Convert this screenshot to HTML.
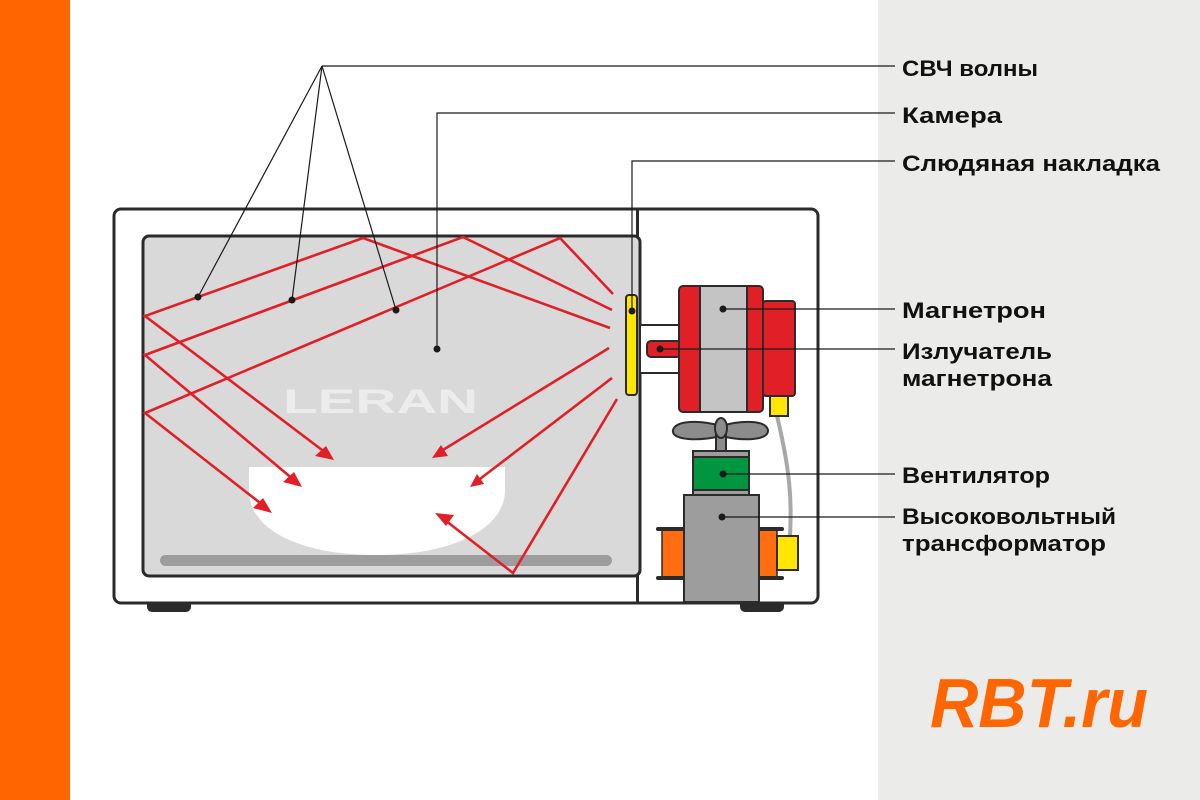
<!DOCTYPE html>
<html><head><meta charset="utf-8"><style>body{margin:0}svg{display:block}</style></head><body>
<svg width="1200" height="800" viewBox="0 0 1200 800" xmlns="http://www.w3.org/2000/svg" font-family="Liberation Sans, sans-serif">
<rect width="1200" height="800" fill="#fff"/>
<rect width="70" height="800" fill="#ff6600"/>
<rect x="878" width="322" height="800" fill="#ebebea"/>
<!-- feet -->
<rect x="147" y="598" width="44" height="14" rx="5" fill="#2b2b2b"/>
<rect x="740" y="598" width="44" height="14" rx="5" fill="#2b2b2b"/>
<!-- outer -->
<rect x="114" y="209" width="704" height="394" rx="7" fill="#fff" stroke="#2b2b2b" stroke-width="3"/>
<line x1="637.5" y1="209" x2="637.5" y2="603" stroke="#2b2b2b" stroke-width="3"/>
<!-- chamber -->
<rect x="143" y="236" width="497" height="340" rx="6" fill="#d9d9d9" stroke="#2b2b2b" stroke-width="3"/>
<rect x="160" y="555" width="452" height="11" rx="5.5" fill="#9d9d9d"/>
<text x="283" y="413" font-size="34" font-weight="bold" fill="#ececec" textLength="195" lengthAdjust="spacingAndGlyphs">LERAN</text>
<!-- bowl -->
<path d="M249 467 H505 V490 C505 530 450 555 377 555 C300 555 249 530 249 490 Z" fill="#fff"/>
<!-- rays -->
<g stroke="#e11f26" stroke-width="2.6" fill="none">
<polyline points="612,310 463,237 145,355 294,480"/>
<polyline points="610,328 363,238 145,316 326,453"/>
<polyline points="613,294 560,238 145,413 264,506"/>
<polyline points="609,348 438,453"/>
<polyline points="612,378 476,482"/>
<polyline points="617,399 513,573 441,517"/>
</g>
<g fill="#e11f26">
<polygon points="334,460 315,456 326,446"/>
<polygon points="302,487 283,482 294,472"/>
<polygon points="272,513 253,508 263,498"/>
<polygon points="432,458 441,445 448,456"/>
<polygon points="470,487 477,474 484,484"/>
<polygon points="435,513 454,515 446,526"/>
</g>
<!-- right section -->
<path d="M777 416 C790 470 792 500 790 536" stroke="#a8a8a8" stroke-width="4" fill="none"/>
<rect x="626" y="295" width="11" height="100" rx="3" fill="#ffe600" stroke="#2b2b2b" stroke-width="2"/>
<rect x="640" y="325" width="40" height="48" fill="#fff" stroke="#2b2b2b" stroke-width="2"/>
<rect x="647" y="341" width="34" height="16" rx="4" fill="#e11f26" stroke="#2b2b2b" stroke-width="2"/>
<rect x="763" y="301" width="32" height="95" rx="3" fill="#e11f26" stroke="#2b2b2b" stroke-width="2"/>
<rect x="770" y="396" width="18" height="20" fill="#ffe600" stroke="#2b2b2b" stroke-width="2"/>
<rect x="679" y="286" width="84" height="126" rx="4" fill="#e11f26" stroke="#2b2b2b" stroke-width="2"/>
<rect x="700" y="286" width="47" height="126" fill="#c4c4c4" stroke="#2b2b2b" stroke-width="2"/>
<!-- fan -->
<path d="M721 426 C700 420 676 420 673 430 C671 441 700 441 721 436 C742 441 769 441 768 430 C766 420 742 420 721 426 Z" fill="#8c8c8c" stroke="#2b2b2b" stroke-width="2"/>
<rect x="716" y="432" width="10" height="19" fill="#8c8c8c" stroke="#2b2b2b" stroke-width="2"/>
<ellipse cx="721" cy="428" rx="6" ry="10" fill="#8c8c8c" stroke="#2b2b2b" stroke-width="2"/>
<rect x="693" y="451" width="56" height="44" fill="#9d9d9d" stroke="#2b2b2b" stroke-width="2"/>
<rect x="693" y="457" width="56" height="33" fill="#00963f" stroke="#2b2b2b" stroke-width="2"/>
<!-- transformer -->
<rect x="662" y="530" width="22" height="47" fill="#ff6d10" stroke="#2b2b2b" stroke-width="1.5"/>
<rect x="759" y="530" width="18" height="47" fill="#ff6d10" stroke="#2b2b2b" stroke-width="1.5"/>
<rect x="656" y="527" width="128" height="4" rx="2" fill="#2b2b2b"/>
<rect x="656" y="576" width="128" height="4" rx="2" fill="#2b2b2b"/>
<rect x="684" y="495" width="75" height="107" fill="#9d9d9d" stroke="#2b2b2b" stroke-width="2"/>
<rect x="777" y="536" width="21" height="34" fill="#ffe600" stroke="#2b2b2b" stroke-width="2"/>
<!-- leaders -->
<g stroke="#1a1a1a" stroke-width="1.2" fill="none">
<polyline points="895,66 322,66"/>
<line x1="322" y1="66" x2="198" y2="297"/>
<line x1="322" y1="66" x2="292" y2="300"/>
<line x1="322" y1="66" x2="396" y2="310"/>
<polyline points="895,113 437,113 437,349"/>
<polyline points="895,161 632,161 632,311"/>
<line x1="723" y1="309" x2="895" y2="309"/>
<line x1="660" y1="349" x2="895" y2="349"/>
<line x1="723" y1="474" x2="895" y2="474"/>
<line x1="722" y1="517" x2="895" y2="517"/>
</g>
<g fill="#1a1a1a">
<circle cx="198" cy="297" r="3.5"/><circle cx="292" cy="300" r="3.5"/><circle cx="396" cy="310" r="3.5"/>
<circle cx="437" cy="349" r="3.5"/><circle cx="632" cy="311" r="3.5"/><circle cx="723" cy="309" r="3.5"/>
<circle cx="660" cy="349" r="3.5"/><circle cx="723" cy="474" r="3.5"/><circle cx="722" cy="517" r="3.5"/>
</g>
<g font-size="22" font-weight="bold" fill="#111" lengthAdjust="spacingAndGlyphs">
<text x="902" y="76" textLength="136" lengthAdjust="spacingAndGlyphs">СВЧ волны</text>
<text x="902" y="123" textLength="100" lengthAdjust="spacingAndGlyphs">Камера</text>
<text x="902" y="171" textLength="258" lengthAdjust="spacingAndGlyphs">Слюдяная накладка</text>
<text x="902" y="318" textLength="144" lengthAdjust="spacingAndGlyphs">Магнетрон</text>
<text x="902" y="359" textLength="150" lengthAdjust="spacingAndGlyphs">Излучатель</text>
<text x="902" y="386" textLength="150" lengthAdjust="spacingAndGlyphs">магнетрона</text>
<text x="902" y="483" textLength="148" lengthAdjust="spacingAndGlyphs">Вентилятор</text>
<text x="902" y="524" textLength="214" lengthAdjust="spacingAndGlyphs">Высоковольтный</text>
<text x="902" y="551" textLength="204" lengthAdjust="spacingAndGlyphs">трансформатор</text>
</g>
<text x="930" y="727" font-size="70" font-weight="bold" font-style="italic" fill="#ff6600" textLength="218" lengthAdjust="spacingAndGlyphs">RBT.ru</text>
</svg>
</body></html>
